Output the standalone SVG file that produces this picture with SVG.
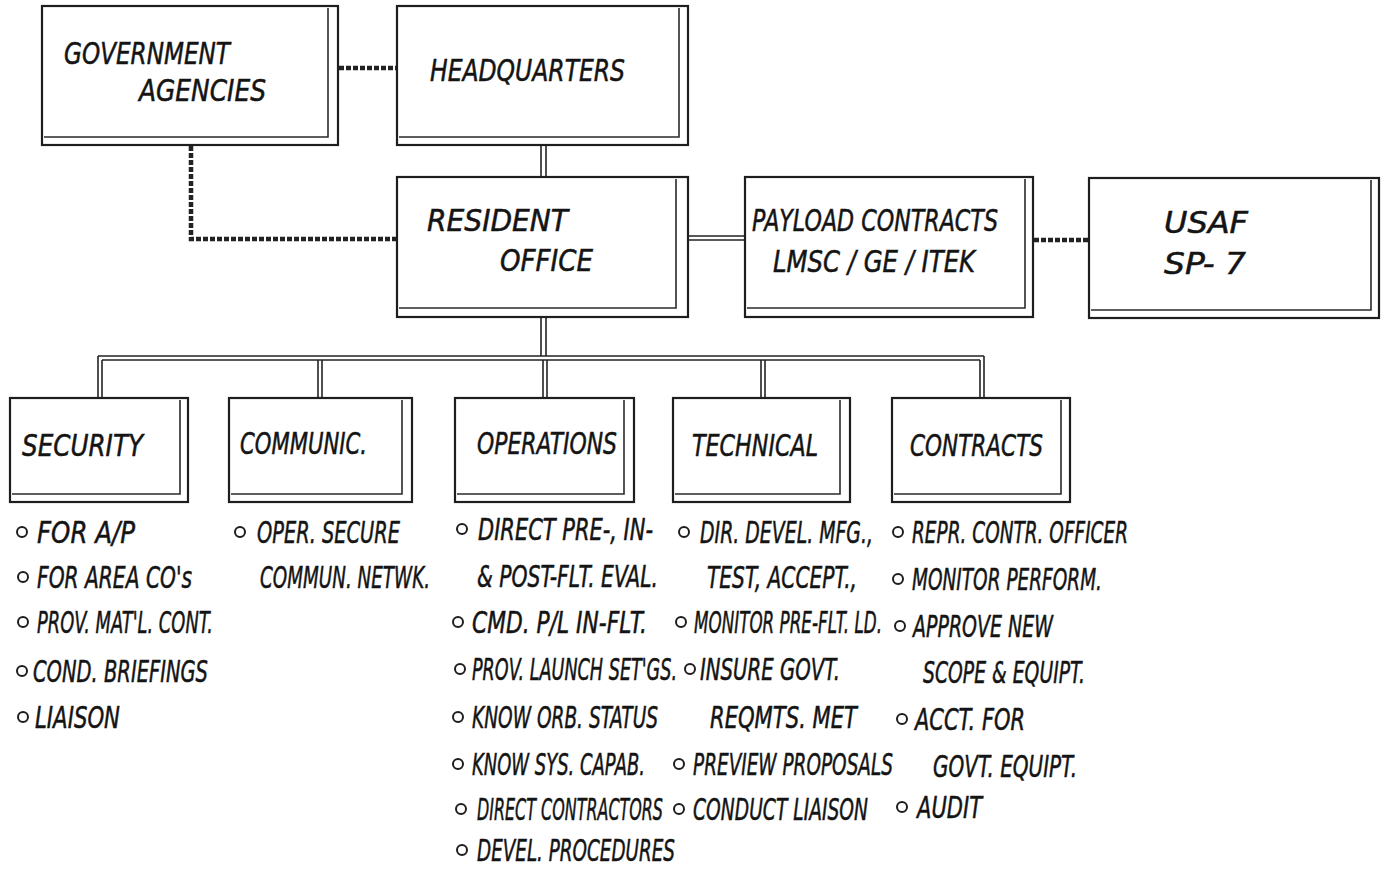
<svg xmlns="http://www.w3.org/2000/svg" width="1393" height="869" viewBox="0 0 1393 869">
<style>
.bg{fill:#fff}
.box{fill:none;stroke:#1e1e1e;stroke-width:2.2}
.inner{fill:none;stroke:#2a2a2a;stroke-width:1.6}
.t{font-family:"Liberation Sans Narrow","DejaVu Sans Condensed","Liberation Sans",sans-serif;font-style:italic;font-size:31px;fill:#141414;stroke:#141414;stroke-width:0.5}
.bul{fill:none;stroke:#1e1e1e;stroke-width:2}
.ln{stroke:#222;stroke-width:1.6;fill:none}
.dot{stroke:#222;stroke-width:4.5;stroke-dasharray:5 2;fill:none}
</style>
<rect class="bg" x="0" y="0" width="1393" height="869"/>

<g id="connectors">
  <line class="dot" x1="339" y1="68" x2="397" y2="68"/>
  <polyline class="dot" points="191,146 191,239 397,239"/>
  <line class="ln" x1="541" y1="146" x2="541" y2="177"/>
  <line class="ln" x1="546" y1="146" x2="546" y2="177"/>
  <line class="ln" x1="688" y1="236" x2="745" y2="236"/>
  <line class="ln" x1="688" y1="240" x2="745" y2="240"/>
  <line class="dot" x1="1034" y1="240" x2="1089" y2="240"/>
  <line class="ln" x1="541" y1="318" x2="541" y2="356"/>
  <line class="ln" x1="546" y1="318" x2="546" y2="356"/>
  <line class="ln" x1="98" y1="356" x2="984" y2="356"/>
  <line class="ln" x1="102" y1="360" x2="980" y2="360"/>
  <line class="ln" x1="98" y1="356" x2="98" y2="398"/>
  <line class="ln" x1="102" y1="360" x2="102" y2="398"/>
  <line class="ln" x1="318" y1="360" x2="318" y2="398"/>
  <line class="ln" x1="322" y1="360" x2="322" y2="398"/>
  <line class="ln" x1="543" y1="360" x2="543" y2="398"/>
  <line class="ln" x1="547" y1="360" x2="547" y2="398"/>
  <line class="ln" x1="761" y1="360" x2="761" y2="398"/>
  <line class="ln" x1="765" y1="360" x2="765" y2="398"/>
  <line class="ln" x1="980" y1="360" x2="980" y2="398"/>
  <line class="ln" x1="984" y1="356" x2="984" y2="398"/>
</g>

<g id="government-agencies">
  <rect class="box" x="42" y="6" width="296" height="139"/>
  <polyline class="inner" points="328,8 328,137 44,137"/>
  <text class="t" x="64" y="64" textLength="166" lengthAdjust="spacingAndGlyphs">GOVERNMENT</text>
  <text class="t" x="139" y="101" textLength="127" lengthAdjust="spacingAndGlyphs">AGENCIES</text>
</g>

<g id="headquarters">
  <rect class="box" x="397" y="6" width="291" height="139"/>
  <polyline class="inner" points="679,8 679,137 399,137"/>
  <text class="t" x="430" y="81" textLength="195" lengthAdjust="spacingAndGlyphs">HEADQUARTERS</text>
</g>

<g id="resident-office">
  <rect class="box" x="397" y="177" width="291" height="140"/>
  <polyline class="inner" points="676,179 676,308 399,308"/>
  <text class="t" x="427" y="231" textLength="141" lengthAdjust="spacingAndGlyphs">RESIDENT</text>
  <text class="t" x="500" y="271" textLength="93" lengthAdjust="spacingAndGlyphs">OFFICE</text>
</g>

<g id="payload-contracts">
  <rect class="box" x="745" y="177" width="288" height="140"/>
  <polyline class="inner" points="1025,179 1025,308 747,308"/>
  <text class="t" x="752" y="231" textLength="246" lengthAdjust="spacingAndGlyphs">PAYLOAD CONTRACTS</text>
  <text class="t" x="773" y="272" textLength="202" lengthAdjust="spacingAndGlyphs">LMSC / GE / ITEK</text>
</g>

<g id="usaf-sp7">
  <rect class="box" x="1089" y="178" width="290" height="140"/>
  <polyline class="inner" points="1371,180 1371,310 1091,310"/>
  <text class="t" x="1164" y="233" textLength="84" lengthAdjust="spacingAndGlyphs">USAF</text>
  <text class="t" x="1164" y="274" textLength="82" lengthAdjust="spacingAndGlyphs">SP- 7</text>
</g>

<g id="security">
  <rect class="box" x="10" y="398" width="178" height="104"/>
  <polyline class="inner" points="180,400 180,494 12,494"/>
  <text class="t" x="22" y="456" textLength="121" lengthAdjust="spacingAndGlyphs">SECURITY</text>
  <circle class="bul" cx="22" cy="532" r="5"/>
  <text class="t" x="37" y="543" textLength="98" lengthAdjust="spacingAndGlyphs">FOR A/P</text>
  <circle class="bul" cx="23" cy="577" r="5"/>
  <text class="t" x="37" y="588" textLength="155" lengthAdjust="spacingAndGlyphs">FOR AREA CO's</text>
  <circle class="bul" cx="23" cy="622" r="5"/>
  <text class="t" x="37" y="633" textLength="176" lengthAdjust="spacingAndGlyphs">PROV. MAT'L. CONT.</text>
  <circle class="bul" cx="22" cy="671" r="5"/>
  <text class="t" x="33" y="682" textLength="175" lengthAdjust="spacingAndGlyphs">COND. BRIEFINGS</text>
  <circle class="bul" cx="23" cy="717" r="5"/>
  <text class="t" x="35" y="728" textLength="85" lengthAdjust="spacingAndGlyphs">LIAISON</text>
</g>

<g id="communic">
  <rect class="box" x="229" y="398" width="183" height="104"/>
  <polyline class="inner" points="402,400 402,494 231,494"/>
  <text class="t" x="240" y="454" textLength="127" lengthAdjust="spacingAndGlyphs">COMMUNIC.</text>
  <circle class="bul" cx="240" cy="532" r="5"/>
  <text class="t" x="257" y="543" textLength="143" lengthAdjust="spacingAndGlyphs">OPER. SECURE</text>
  <text class="t" x="260" y="588" textLength="170" lengthAdjust="spacingAndGlyphs">COMMUN. NETWK.</text>
</g>

<g id="operations">
  <rect class="box" x="455" y="398" width="179" height="104"/>
  <polyline class="inner" points="624,400 624,494 457,494"/>
  <text class="t" x="477" y="454" textLength="140" lengthAdjust="spacingAndGlyphs">OPERATIONS</text>
  <circle class="bul" cx="462" cy="529" r="5"/>
  <text class="t" x="478" y="540" textLength="175" lengthAdjust="spacingAndGlyphs">DIRECT PRE-, IN-</text>
  <text class="t" x="477" y="587" textLength="181" lengthAdjust="spacingAndGlyphs">&amp; POST-FLT. EVAL.</text>
  <circle class="bul" cx="458" cy="622" r="5"/>
  <text class="t" x="472" y="633" textLength="175" lengthAdjust="spacingAndGlyphs">CMD. P/L IN-FLT.</text>
  <circle class="bul" cx="460" cy="669" r="5"/>
  <text class="t" x="472" y="680" textLength="205" lengthAdjust="spacingAndGlyphs">PROV. LAUNCH SET'GS.</text>
  <circle class="bul" cx="458" cy="717" r="5"/>
  <text class="t" x="472" y="728" textLength="186" lengthAdjust="spacingAndGlyphs">KNOW ORB. STATUS</text>
  <circle class="bul" cx="458" cy="764" r="5"/>
  <text class="t" x="472" y="775" textLength="173" lengthAdjust="spacingAndGlyphs">KNOW SYS. CAPAB.</text>
  <circle class="bul" cx="461" cy="809" r="5"/>
  <text class="t" x="477" y="820" textLength="186" lengthAdjust="spacingAndGlyphs">DIRECT CONTRACTORS</text>
  <circle class="bul" cx="462" cy="850" r="5"/>
  <text class="t" x="477" y="861" textLength="198" lengthAdjust="spacingAndGlyphs">DEVEL. PROCEDURES</text>
</g>

<g id="technical">
  <rect class="box" x="673" y="398" width="177" height="104"/>
  <polyline class="inner" points="840,400 840,494 675,494"/>
  <text class="t" x="692" y="456" textLength="126" lengthAdjust="spacingAndGlyphs">TECHNICAL</text>
  <circle class="bul" cx="684" cy="532" r="5"/>
  <text class="t" x="700" y="543" textLength="173" lengthAdjust="spacingAndGlyphs">DIR. DEVEL. MFG.,</text>
  <text class="t" x="707" y="588" textLength="150" lengthAdjust="spacingAndGlyphs">TEST, ACCEPT.,</text>
  <circle class="bul" cx="681" cy="622" r="5"/>
  <text class="t" x="694" y="633" textLength="188" lengthAdjust="spacingAndGlyphs">MONITOR PRE-FLT. LD.</text>
  <circle class="bul" cx="690" cy="669" r="5"/>
  <text class="t" x="700" y="680" textLength="140" lengthAdjust="spacingAndGlyphs">INSURE  GOVT.</text>
  <text class="t" x="710" y="728" textLength="147" lengthAdjust="spacingAndGlyphs">REQMTS.  MET</text>
  <circle class="bul" cx="679" cy="764" r="5"/>
  <text class="t" x="693" y="775" textLength="200" lengthAdjust="spacingAndGlyphs">PREVIEW PROPOSALS</text>
  <circle class="bul" cx="679" cy="809" r="5"/>
  <text class="t" x="693" y="820" textLength="175" lengthAdjust="spacingAndGlyphs">CONDUCT LIAISON</text>
</g>

<g id="contracts">
  <rect class="box" x="892" y="398" width="178" height="104"/>
  <polyline class="inner" points="1061,400 1061,494 894,494"/>
  <text class="t" x="910" y="456" textLength="133" lengthAdjust="spacingAndGlyphs">CONTRACTS</text>
  <circle class="bul" cx="898" cy="532" r="5"/>
  <text class="t" x="912" y="543" textLength="216" lengthAdjust="spacingAndGlyphs">REPR. CONTR. OFFICER</text>
  <circle class="bul" cx="898" cy="579" r="5"/>
  <text class="t" x="912" y="590" textLength="190" lengthAdjust="spacingAndGlyphs">MONITOR PERFORM.</text>
  <circle class="bul" cx="900" cy="626" r="5"/>
  <text class="t" x="913" y="637" textLength="140" lengthAdjust="spacingAndGlyphs">APPROVE NEW</text>
  <text class="t" x="923" y="683" textLength="162" lengthAdjust="spacingAndGlyphs">SCOPE &amp; EQUIPT.</text>
  <circle class="bul" cx="902" cy="719" r="5"/>
  <text class="t" x="915" y="730" textLength="110" lengthAdjust="spacingAndGlyphs">ACCT.  FOR</text>
  <text class="t" x="933" y="777" textLength="144" lengthAdjust="spacingAndGlyphs">GOVT. EQUIPT.</text>
  <circle class="bul" cx="902" cy="807" r="5"/>
  <text class="t" x="917" y="818" textLength="65" lengthAdjust="spacingAndGlyphs">AUDIT</text>
</g>
</svg>
